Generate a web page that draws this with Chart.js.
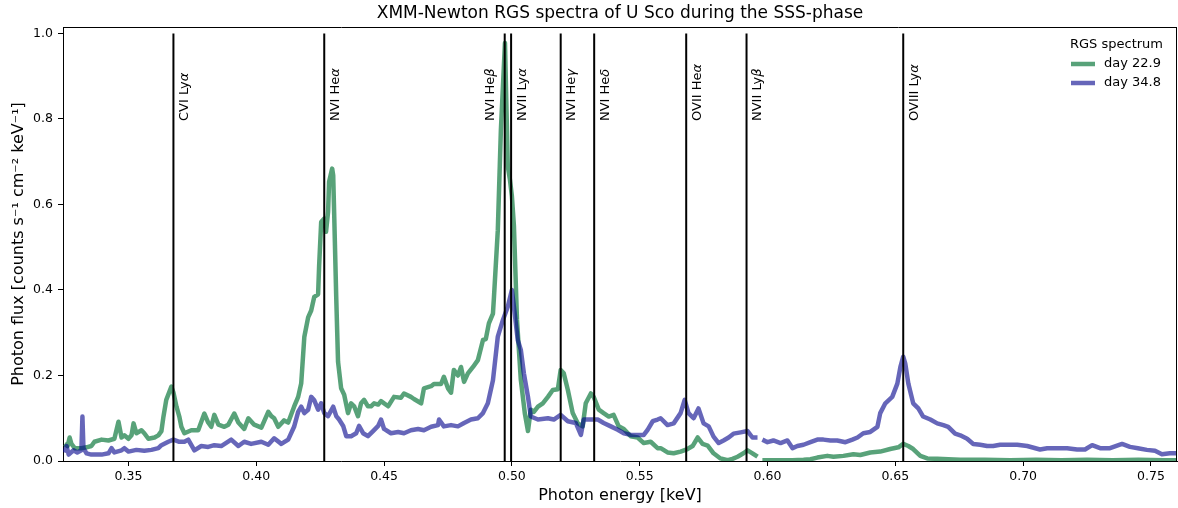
<!DOCTYPE html>
<html>
<head>
<meta charset="utf-8">
<script src="https://cdn.jsdelivr.net/npm/chart.js@4.4.0/dist/chart.umd.min.js"></script>
<style>
html,body{margin:0;padding:0;background:#fff;}
#wrap{width:1178px;height:508px;}
</style>
</head>
<body>
<div id="wrap"><canvas id="c" width="1178" height="508"></canvas></div>
<script>
// ---------------- data ----------------
const chartTitle = 'XMM-Newton RGS spectra of U Sco during the SSS-phase';
const xTitle = 'Photon energy [keV]';
const yTitle = 'Photon flux [counts s\u207B\u00B9 cm\u207B\u00B2 keV\u207B\u00B9]';
const legendTitle = 'RGS spectrum';
const seriesLabels = ['day 22.9', 'day 34.8'];

const xTicks = [0.35, 0.40, 0.45, 0.50, 0.55, 0.60, 0.65, 0.70, 0.75];
const yTicks = [0.0, 0.2, 0.4, 0.6, 0.8, 1.0];

// day 22.9
const energyDay229 = [
0.3250,0.3262,0.3270,0.3277,0.3290,0.3316,0.3336,0.3355,0.3367,0.3395,
0.3422,0.3445,0.3461,0.3473,0.3484,0.3500,0.3512,0.3520,0.3531,0.3551,
0.3562,0.3578,0.3602,0.3617,0.3629,0.3637,0.3648,0.3668,0.3676,0.3688,
0.3699,0.3707,0.3719,0.3746,0.3773,0.3797,0.3812,0.3824,0.3836,0.3852,
0.3875,0.3891,0.3914,0.3930,0.3953,0.3969,0.3992,0.4020,0.4047,0.4059,
0.4070,0.4086,0.4109,0.4125,0.4148,0.4164,0.4176,0.4188,0.4203,0.4215,
0.4227,0.4242,0.4246,0.4254,0.4266,0.4273,0.4281,0.4285,0.4297,0.4301,
0.4305,0.4313,0.4320,0.4332,0.4344,0.4359,0.4371,0.4383,0.4398,0.4410,
0.4422,0.4437,0.4449,0.4461,0.4477,0.4488,0.4516,0.4539,0.4566,0.4578,
0.4605,0.4617,0.4645,0.4656,0.4684,0.4695,0.4723,0.4734,0.4750,0.4762,
0.4773,0.4789,0.4801,0.4813,0.4828,0.4848,0.4867,0.4887,0.4898,0.4910,
0.4926,0.4930,0.4945,0.4957,0.4973,0.4984,0.4992,0.5000,0.5008,0.5020,
0.5035,0.5051,0.5063,0.5074,0.5086,0.5102,0.5121,0.5141,0.5160,0.5180,
0.5191,0.5203,0.5219,0.5238,0.5258,0.5277,0.5289,0.5309,0.5320,0.5340,
0.5359,0.5379,0.5398,0.5418,0.5438,0.5465,0.5492,0.5516,0.5543,0.5570,
0.5582,0.5609,0.5633,0.5660,0.5687,0.5707,0.5727,0.5746,0.5766,0.5789,
0.5816,0.5844,0.5863,0.5883,0.5906,0.5922,0.5941,0.5961,0.5970,0.5980,
0.6012,0.6051,0.6098,0.6141,0.6168,0.6195,0.6234,0.6258,0.6297,0.6336,
0.6363,0.6402,0.6441,0.6480,0.6512,0.6531,0.6551,0.6570,0.6598,0.6625,
0.6664,0.6707,0.6754,0.6850,0.6950,0.7050,0.7150,0.7250,0.7350,0.7450,
0.7550,0.7602
];
const fluxDay229 = [
0.040,0.035,0.055,0.040,0.030,0.030,0.032,0.035,0.045,0.050,
0.048,0.052,0.092,0.055,0.060,0.052,0.060,0.088,0.065,0.072,
0.065,0.052,0.055,0.060,0.070,0.104,0.143,0.174,0.160,0.127,
0.104,0.080,0.065,0.072,0.072,0.111,0.090,0.080,0.108,0.085,
0.080,0.085,0.111,0.090,0.075,0.100,0.085,0.078,0.115,0.105,
0.100,0.080,0.095,0.090,0.127,0.150,0.182,0.290,0.336,0.352,
0.384,0.390,0.457,0.559,0.567,0.536,0.583,0.653,0.684,0.668,
0.575,0.380,0.232,0.170,0.155,0.112,0.135,0.128,0.105,0.135,
0.143,0.128,0.128,0.135,0.132,0.140,0.128,0.150,0.148,0.158,
0.150,0.145,0.135,0.170,0.175,0.180,0.180,0.197,0.170,0.160,
0.213,0.200,0.220,0.185,0.205,0.220,0.236,0.283,0.285,0.322,
0.345,0.384,0.540,0.774,0.978,0.690,0.660,0.620,0.550,0.330,
0.190,0.110,0.070,0.120,0.115,0.127,0.135,0.150,0.166,0.168,
0.213,0.205,0.166,0.112,0.088,0.081,0.135,0.158,0.150,0.120,
0.112,0.104,0.108,0.081,0.075,0.058,0.055,0.042,0.045,0.030,
0.030,0.020,0.018,0.022,0.028,0.035,0.055,0.040,0.036,0.018,
0.006,0.002,0.005,0.010,0.018,0.025,0.018,0.010,null,0.002,
0.002,0.002,0.002,0.003,0.004,0.008,0.012,0.010,0.012,0.016,
0.014,0.020,0.022,0.028,0.032,0.040,0.035,0.028,0.012,0.006,
0.005,0.004,0.003,0.003,0.002,0.003,0.002,0.003,0.002,0.003,
0.002,0.002
];

// day 34.8
const energyDay348 = [
0.3250,0.3258,0.3266,0.3285,0.3300,0.3316,0.3320,0.3324,0.3336,0.3355,
0.3395,0.3422,0.3434,0.3445,0.3473,0.3484,0.3500,0.3531,0.3562,0.3590,
0.3617,0.3629,0.3656,0.3676,0.3699,0.3719,0.3734,0.3758,0.3785,0.3812,
0.3836,0.3863,0.3902,0.3930,0.3953,0.3980,0.4020,0.4047,0.4070,0.4098,
0.4125,0.4148,0.4164,0.4176,0.4188,0.4203,0.4215,0.4227,0.4242,0.4254,
0.4266,0.4281,0.4301,0.4313,0.4324,0.4340,0.4352,0.4371,0.4391,0.4402,
0.4418,0.4437,0.4457,0.4477,0.4488,0.4500,0.4527,0.4555,0.4578,0.4605,
0.4633,0.4656,0.4684,0.4711,0.4715,0.4734,0.4762,0.4789,0.4813,0.4840,
0.4867,0.4887,0.4906,0.4926,0.4945,0.4965,0.4984,0.5000,0.5008,0.5023,
0.5035,0.5047,0.5063,0.5074,0.5102,0.5141,0.5164,0.5191,0.5219,0.5250,
0.5270,0.5281,0.5309,0.5336,0.5359,0.5387,0.5414,0.5438,0.5465,0.5492,
0.5516,0.5531,0.5551,0.5570,0.5582,0.5609,0.5633,0.5660,0.5676,0.5691,
0.5711,0.5730,0.5750,0.5770,0.5789,0.5809,0.5828,0.5848,0.5867,0.5895,
0.5922,0.5941,0.5961,0.5970,0.5980,0.6000,0.6023,0.6051,0.6078,0.6098,
0.6117,0.6141,0.6168,0.6195,0.6219,0.6246,0.6273,0.6305,0.6332,0.6352,
0.6375,0.6402,0.6430,0.6441,0.6461,0.6488,0.6508,0.6520,0.6531,0.6539,
0.6551,0.6570,0.6590,0.6609,0.6637,0.6664,0.6688,0.6707,0.6734,0.6754,
0.6781,0.6805,0.6832,0.6859,0.6883,0.6910,0.6938,0.6977,0.7016,0.7066,
0.7094,0.7133,0.7172,0.7211,0.7242,0.7270,0.7301,0.7340,0.7387,0.7418,
0.7449,0.7484,0.7516,0.7543,0.7574,0.7602
];
const fluxDay348 = [
0.020,0.035,0.015,0.025,0.020,0.025,0.104,0.030,0.018,0.015,
0.015,0.018,0.030,0.020,0.025,0.030,0.022,0.026,0.024,0.026,
0.030,0.037,0.045,0.050,0.045,0.045,0.050,0.025,0.035,0.033,
0.037,0.035,0.050,0.035,0.045,0.040,0.045,0.038,0.053,0.040,
0.050,0.080,0.115,0.127,0.112,0.120,0.150,0.142,0.120,0.135,
0.112,0.105,0.127,0.105,0.097,0.082,0.058,0.058,0.065,0.082,
0.065,0.058,0.070,0.082,0.097,0.075,0.065,0.068,0.065,0.072,
0.075,0.072,0.080,0.084,0.097,0.081,0.084,0.081,0.089,0.097,
0.100,0.112,0.135,0.189,0.291,0.330,0.361,0.400,0.361,0.283,
0.260,0.205,0.150,0.104,0.097,0.100,0.097,0.108,0.093,0.089,
0.061,0.097,0.097,0.097,0.089,0.081,0.073,0.065,0.061,0.061,
0.061,0.073,0.093,0.097,0.100,0.084,0.088,0.112,0.143,0.112,
0.100,0.123,0.088,0.081,0.057,0.042,0.048,0.055,0.064,0.067,
0.070,0.055,0.055,null,0.050,0.044,0.048,0.042,0.048,0.030,
0.035,0.038,0.044,0.050,0.050,0.048,0.048,0.044,0.050,0.055,
0.065,0.068,0.080,0.112,0.135,0.150,0.181,0.220,0.244,0.228,
0.181,0.135,0.123,0.104,0.097,0.088,0.084,0.080,0.064,0.060,
0.052,0.040,0.038,0.035,0.035,0.038,0.038,0.038,0.035,0.027,
0.030,0.030,0.030,0.027,0.027,0.037,0.030,0.030,0.040,0.033,
0.030,0.026,0.024,0.016,0.018,0.018
];

// emission line markers
const lineEnergies = [0.3676, 0.4266, 0.4972, 0.4997, 0.5191, 0.5322, 0.5682, 0.5918, 0.6531];
const lineIons     = ['CVI Ly', 'NVI He', 'NVI He', 'NVII Ly', 'NVI He', 'NVI He', 'OVII He', 'NVII Ly', 'OVIII Ly'];
const lineGreek    = ['\u03B1', '\u03B1', '\u03B2', '\u03B1', '\u03B3', '\u03B4', '\u03B1', '\u03B2', '\u03B1'];
const lineMarkTop  = 1.0;
const lineLabelAt  = 0.8;

// ---------------- styling / layout ----------------
const xMin = 0.3244, xMax = 0.7602, yMin = 0, yMax = 1.0152;
const labelSidePx = [14.5, 14.5, -11, 14.5, 14.5, 14.5, 14.5, 14.5, 14.5];
const FONT = 'DejaVu Sans';
Chart.defaults.font.family = FONT;
Chart.defaults.color = '#000';

const seriesStyle = [
  {color: 'rgba(46,139,87,0.8)', order: 2},
  {color: 'rgba(0,0,139,0.6)', order: 1}
];
const seriesData = [[energyDay229, fluxDay229], [energyDay348, fluxDay348]];

const datasets = seriesData.map((s, k) => ({
  label: seriesLabels[k],
  data: s[0].map((x, i) => ({x: x, y: s[1][i]})),
  borderColor: seriesStyle[k].color,
  backgroundColor: seriesStyle[k].color,
  borderWidth: 4.5,
  pointRadius: 0,
  tension: 0,
  spanGaps: false,
  order: seriesStyle[k].order,
  clip: 0,
  borderJoinStyle: 'round',
  borderCapStyle: 'butt'
}));
lineEnergies.forEach((e, i) => {
  datasets.push({
    label: lineIons[i] + lineGreek[i],
    data: [{x: e, y: 0}, {x: e, y: lineMarkTop}],
    borderColor: '#000',
    borderWidth: 2,
    pointRadius: 0,
    order: 0,
    clip: 0,
    isMarker: true
  });
});

const decorPlugin = {
  id: 'decor',
  afterDatasetsDraw(chart) {
    const ctx = chart.ctx, xs = chart.scales.x, ys = chart.scales.y;
    ctx.save();
    ctx.fillStyle = '#000';
    lineEnergies.forEach((e, i) => {
      const px = xs.getPixelForValue(e) + labelSidePx[i];
      const py = ys.getPixelForValue(lineLabelAt) + 2;
      ctx.save();
      ctx.translate(px, py);
      ctx.rotate(-Math.PI / 2);
      ctx.textAlign = 'left';
      ctx.textBaseline = 'alphabetic';
      ctx.font = '13px "' + FONT + '"';
      ctx.fillText(lineIons[i], 0, 0);
      const w = ctx.measureText(lineIons[i]).width;
      ctx.font = 'italic 13px "' + FONT + '"';
      ctx.fillText(lineGreek[i], w, 0);
      ctx.restore();
    });
    ctx.restore();
  },
  afterDraw(chart) {
    const ctx = chart.ctx, ca = chart.chartArea;
    ctx.save();
    ctx.strokeStyle = '#000';
    ctx.lineWidth = 1;
    ctx.beginPath();
    ctx.moveTo(ca.left, Math.round(ca.top) + 0.5);
    ctx.lineTo(ca.right, Math.round(ca.top) + 0.5);
    ctx.moveTo(Math.round(ca.right) - 0.5, ca.top);
    ctx.lineTo(Math.round(ca.right) - 0.5, ca.bottom);
    ctx.stroke();
    const lx = ca.right - 107;
    ctx.fillStyle = '#000';
    ctx.font = '13px "' + FONT + '"';
    ctx.textAlign = 'left';
    ctx.textBaseline = 'middle';
    ctx.fillText(legendTitle, lx, ca.top + 18);
    chart.data.datasets.filter(d => !d.isMarker).forEach((d, i) => {
      const y = ca.top + 37 + i * 19;
      ctx.strokeStyle = d.borderColor;
      ctx.lineWidth = 4.5;
      ctx.beginPath();
      ctx.moveTo(lx + 1, y);
      ctx.lineTo(lx + 25, y);
      ctx.stroke();
      ctx.fillText(d.label, lx + 34, y);
    });
    ctx.restore();
  }
};

new Chart(document.getElementById('c'), {
  type: 'line',
  data: {datasets: datasets},
  options: {
    responsive: false,
    animation: false,
    devicePixelRatio: 1,
    events: [],
    layout: {padding: {left: 0, right: 1, top: 0, bottom: 0}},
    plugins: {
      legend: {display: false},
      tooltip: {enabled: false},
      title: {
        display: true, text: chartTitle, color: '#000', fullSize: false,
        font: {family: FONT, size: 17, weight: 'normal'},
        padding: {top: 3, bottom: 3.6}
      }
    },
    scales: {
      x: {
        type: 'linear', min: xMin, max: xMax,
        afterFit: s => { s.height = 47; },
        afterBuildTicks: s => { s.ticks = xTicks.map(v => ({value: v})); },
        ticks: {callback: v => v.toFixed(2), color: '#000', font: {family: FONT, size: 12.5}, padding: 3, maxRotation: 0, autoSkip: false},
        grid: {display: true, drawOnChartArea: false, drawTicks: true, tickLength: 5, color: '#000', tickColor: '#000'},
        border: {display: true, color: '#000', width: 1},
        title: {display: true, text: xTitle, color: '#000', font: {family: FONT, size: 16}, padding: {top: 0, bottom: 2.4}}
      },
      y: {
        type: 'linear', min: yMin, max: yMax,
        afterFit: s => { s.width = 63; },
        afterBuildTicks: s => { s.ticks = yTicks.map(v => ({value: v})); },
        ticks: {callback: v => v.toFixed(1), color: '#000', font: {family: FONT, size: 12.5}, padding: 5, autoSkip: false},
        grid: {display: true, drawOnChartArea: false, drawTicks: true, tickLength: 5, color: '#000', tickColor: '#000'},
        border: {display: true, color: '#000', width: 1},
        title: {display: true, text: yTitle, color: '#000', font: {family: FONT, size: 16}, padding: {top: 9, bottom: 0}}
      }
    }
  },
  plugins: [decorPlugin]
});
</script>
</body>
</html>
